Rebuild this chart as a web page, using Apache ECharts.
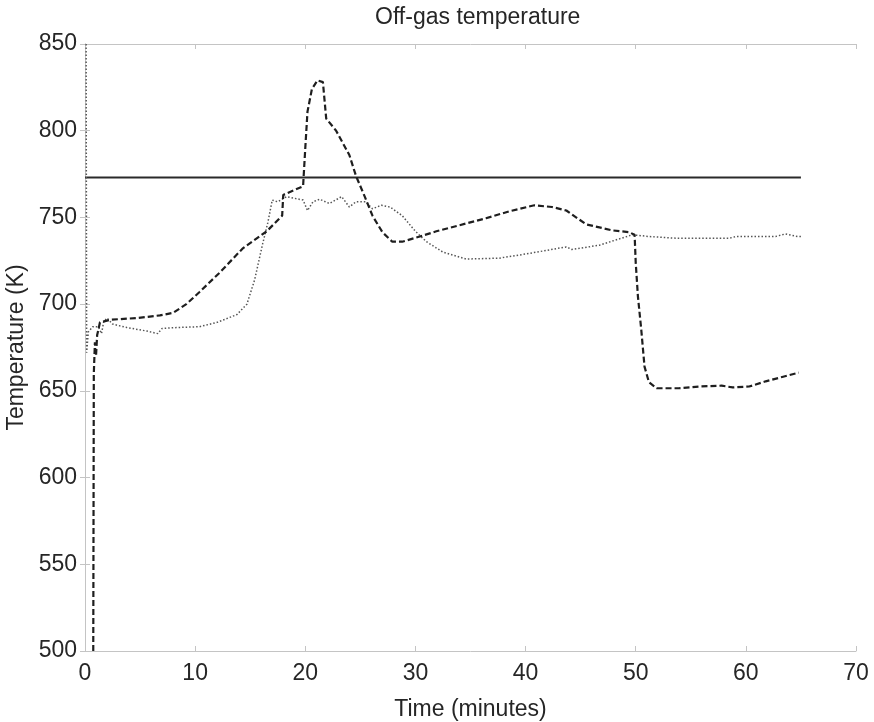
<!DOCTYPE html>
<html>
<head>
<meta charset="utf-8">
<script src="https://cdn.jsdelivr.net/npm/echarts@6/dist/echarts.min.js"></script>
<style>
  html, body { margin: 0; padding: 0; background: #ffffff; }
  #chart { width: 874px; height: 722px; }
</style>
</head>
<body>
<div id="chart"></div>
<script>
// Axis ranges and tick labels
const timeTicks = [0, 10, 20, 30, 40, 50, 60, 70];
const tempTicks = [500, 550, 600, 650, 700, 750, 800, 850];

// Set-point temperature (K), held over the run
const setPoint = [[0, 773], [65, 773]];

// Measured off-gas temperature, run A (dashed) – [minutes, K]
const runDashed = [
  [0.75, 500], [0.8, 660], [0.9, 678], [1.0, 670], [1.1, 682], [1.36, 689.5],
  [2.3, 691], [4.7, 692], [6.8, 693.5], [8.0, 695], [9.2, 700], [10.4, 707],
  [12.2, 718], [14.3, 732], [16.5, 742], [17.9, 751], [18.0, 763], [19.8, 768],
  [20.0, 790], [20.2, 811], [20.6, 824], [21.1, 829], [21.6, 828], [21.9, 807],
  [22.8, 800], [24.0, 786], [24.6, 774], [25.4, 762], [26.1, 751], [27.0, 741.5],
  [27.9, 736], [28.8, 736], [30.4, 739], [31.9, 742], [34.0, 745.5], [36.4, 749.5],
  [38.5, 753.5], [40.8, 757], [42.4, 756], [43.7, 754], [45.5, 746], [47.9, 742.5],
  [49.4, 741.5], [49.9, 740], [50.0, 724], [50.2, 704.5], [50.5, 685.5], [50.8, 664],
  [51.2, 655], [51.9, 651.5], [53.9, 651.5], [55.8, 652.5], [57.8, 653], [58.8, 652],
  [60.3, 652.5], [61.8, 655.5], [63.3, 658], [64.8, 660.5]
];

// Measured off-gas temperature, run B (dotted) – [minutes, K]
const runDotted = [
  [0.1, 850], [0.15, 672], [0.3, 684], [0.7, 687], [1.2, 687], [1.5, 683],
  [1.7, 690], [2.0, 692], [2.5, 688.5], [3.8, 686.5], [5.6, 684.5], [6.6, 683],
  [7.0, 686], [8.3, 686.5], [10.4, 687], [12.0, 689.5], [13.8, 694], [14.7, 700],
  [15.4, 714], [16.1, 734], [16.6, 747], [17.0, 760], [17.5, 759], [18.3, 762],
  [19.8, 760], [20.2, 754], [20.7, 759], [21.3, 760.5], [22.2, 758], [23.3, 762],
  [24.0, 756], [24.6, 759], [25.5, 759], [26.1, 755], [26.9, 757], [27.7, 756],
  [28.8, 751], [30.0, 742], [31.0, 736], [32.5, 730], [34.6, 726], [37.6, 726.5],
  [40.1, 729], [43.7, 733], [44.2, 731.5], [46.7, 734], [49.7, 740], [51.2, 739],
  [53.7, 738], [58.5, 738], [59.1, 739], [62.7, 739], [63.6, 740.5], [64.7, 739],
  [65.0, 739]
];

const FONT = '"Liberation Sans", Arial, sans-serif';
const TEXT = '#262626';
const FRAME = '#c4c4c4';

const chart = echarts.init(document.getElementById('chart'), null, { renderer: 'canvas' });

// Box-style frame: every side carries a line with inward ticks
const frameAxis = (extra) => Object.assign({
  type: 'value',
  axisLine: { show: true, lineStyle: { color: FRAME, width: 1 } },
  axisTick: { show: true, inside: true, length: 5, lineStyle: { color: FRAME } },
  splitLine: { show: false }
}, extra);

chart.setOption({
  animation: false,
  backgroundColor: '#ffffff',
  title: {
    text: 'Off-gas temperature',
    left: 370,
    top: 1,
    textStyle: { fontFamily: FONT, fontSize: 23, fontWeight: 'normal', color: TEXT }
  },
  grid: { left: 85, right: 18, top: 44, bottom: 71, outerBoundsMode: 'none' },
  xAxis: [
    frameAxis({
      min: timeTicks[0], max: timeTicks[timeTicks.length - 1], interval: 10,
      position: 'bottom',
      name: 'Time (minutes)', nameLocation: 'middle', nameGap: 47,
      nameTextStyle: { fontFamily: FONT, fontSize: 23, color: TEXT },
      axisLabel: { show: true, margin: 11, fontFamily: FONT, fontSize: 23, color: TEXT }
    }),
    frameAxis({
      min: timeTicks[0], max: timeTicks[timeTicks.length - 1], interval: 10,
      position: 'top', axisLabel: { show: false }
    })
  ],
  yAxis: [
    frameAxis({
      min: tempTicks[0], max: tempTicks[tempTicks.length - 1], interval: 50,
      position: 'left',
      name: 'Temperature (K)', nameLocation: 'middle', nameGap: 53,
      nameTextStyle: { fontFamily: FONT, fontSize: 23, color: TEXT },
      axisLabel: { show: true, margin: 8, fontFamily: FONT, fontSize: 23, color: TEXT }
    }),
    frameAxis({
      min: tempTicks[0], max: tempTicks[tempTicks.length - 1], interval: 50,
      position: 'right', axisLabel: { show: false }
    })
  ],
  series: [
    {
      name: 'Set point', type: 'line', data: setPoint,
      xAxisIndex: 0, yAxisIndex: 0, showSymbol: false, silent: true,
      lineStyle: { color: '#2a2a2a', width: 2, type: 'solid' }
    },
    {
      name: 'Run B', type: 'line', data: runDotted,
      xAxisIndex: 0, yAxisIndex: 0, showSymbol: false, silent: true,
      lineStyle: { color: '#555555', width: 1.5, type: [1.5, 2] }
    },
    {
      name: 'Run A', type: 'line', data: runDashed,
      xAxisIndex: 0, yAxisIndex: 0, showSymbol: false, silent: true,
      lineStyle: { color: '#1e1e1e', width: 2.2, type: [6, 3] }
    }
  ]
});
</script>
</body>
</html>
